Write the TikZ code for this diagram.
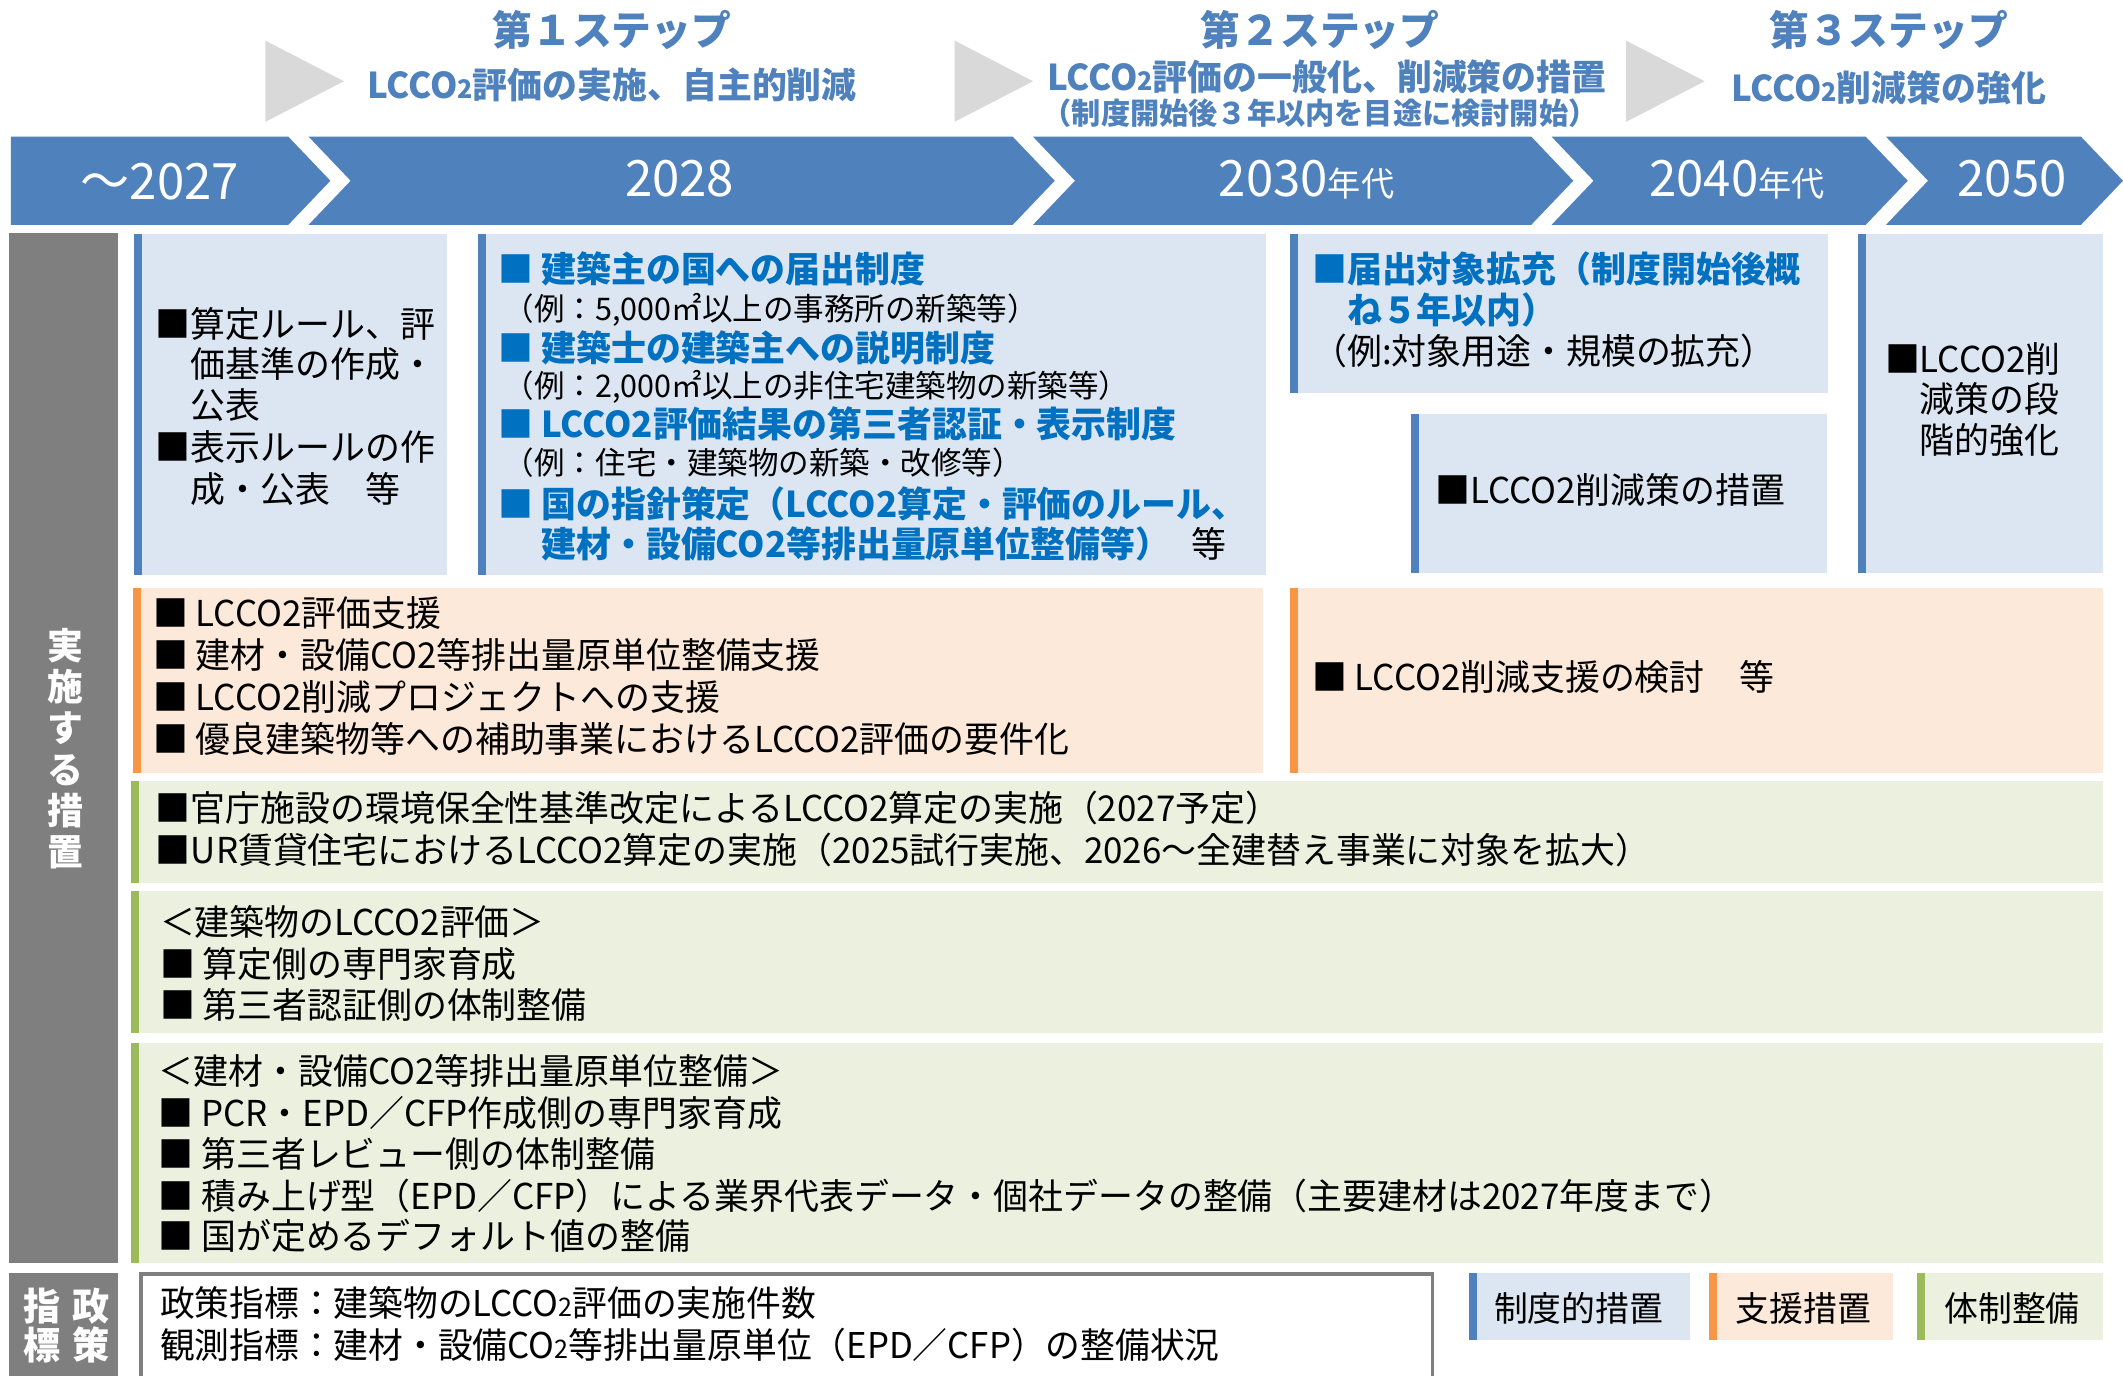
\documentclass[tikz,border=0pt]{standalone}
\usepackage{fontspec}
\setmainfont{Noto Sans CJK JP}[FakeStretch=0.98]
\newcommand\stwo{\scalebox{0.72}{2}}
\definecolor{bandblue}{HTML}{4F81BD}
\definecolor{ttlblue}{HTML}{4F81BD}
\definecolor{hdblue}{HTML}{0070C0}
\definecolor{lblue}{HTML}{DCE6F2}
\definecolor{lorange}{HTML}{FDE9D9}
\definecolor{orbar}{HTML}{F79646}
\definecolor{lgreen}{HTML}{EBF1DE}
\definecolor{grbar}{HTML}{9BBB59}
\definecolor{sidegray}{HTML}{7F7F7F}
\definecolor{trigray}{HTML}{D9D9D9}
\newcommand\catbox[6]{%
  \fill[#1] (#3,#4) rectangle (#5,#6);
  \fill[#2] (#3,#4) rectangle ({#3+6},#6);}
\tikzset{
  body/.style={anchor=base west, inner sep=0pt, yshift=-10pt, font=\fontsize{26.3}{30}\selectfont},
  small/.style={anchor=base west, inner sep=0pt, yshift=-8.7pt, font=\fontsize{23}{26}\selectfont},
  head/.style={body, text=hdblue, font=\fontsize{26.3}{30}\selectfont\bfseries},
  ttl/.style={anchor=base, inner sep=0pt, yshift=-11.5pt, text=ttlblue, font=\fontsize{30}{34}\selectfont\bfseries},
  sub/.style={anchor=base, inner sep=0pt, yshift=-10pt, text=ttlblue, font=\fontsize{26.3}{30}\selectfont\bfseries},
  subs/.style={anchor=base, inner sep=0pt, yshift=-8.3pt, text=ttlblue, font=\fontsize{22}{24}\selectfont\bfseries},
  yr/.style={anchor=base, inner sep=0pt, yshift=-14pt, text=white, font=\fontsize{37}{40}\selectfont},
  vlbl/.style={align=center, inner sep=0pt, text=white, font=\fontsize{27}{30.5}\selectfont\bfseries},
  leg/.style={anchor=base, inner sep=0pt, yshift=-9.8pt, font=\fontsize{25.5}{30}\selectfont},
  ind/.style={body, font=\fontsize{26.2}{30}\selectfont},
  tri/.style={fill=trigray},
  seg/.style={fill=bandblue},
}
\begin{document}
\begin{tikzpicture}[x=1pt,y=-1pt]
\useasboundingbox (0,0) rectangle (1568,1016);
\begin{scope}
\clip (0,0) rectangle (1568,1016);
\fill[white] (0,0) rectangle (1568,1016);
% step triangles
\fill[tri] (196,30) -- (254,60) -- (196,90) -- cycle;
\fill[tri] (705,30) -- (763,60) -- (705,90) -- cycle;
\fill[tri] (1201,30) -- (1259,60) -- (1201,90) -- cycle;
% step titles
\node[ttl] (s1) at (452,22) {第１ステップ};
\node[sub] (s1b) at (452,63) {LCCO\stwo 評価の実施、自主的削減};
\node[ttl] (s2) at (975,22) {第２ステップ};
\node[sub] (s2b) at (980,57) {LCCO\stwo 評価の一般化、削減策の措置};
\node[subs] (s2c) at (975,84) {（制度開始後３年以内を目途に検討開始）};
\node[ttl] (s3) at (1395,22) {第３ステップ};
\node[sub] (s3b) at (1395,65) {LCCO\stwo 削減策の強化};
% timeline band
\fill[seg] (8,101) -- (213,101) -- (244,133.5) -- (213,166) -- (8,166) -- cycle;
\fill[seg] (228,101) -- (748,101) -- (779,133.5) -- (748,166) -- (228,166) -- (259,133.5) -- cycle;
\fill[seg] (763,101) -- (1131,101) -- (1162,133.5) -- (1131,166) -- (763,166) -- (794,133.5) -- cycle;
\fill[seg] (1146,101) -- (1378,101) -- (1409,133.5) -- (1378,166) -- (1146,166) -- (1177,133.5) -- cycle;
\fill[seg] (1393,101) -- (1537,101) -- (1568,133.5) -- (1537,166) -- (1393,166) -- (1424,133.5) -- cycle;
\node[yr] (y1) at (118,133) {～2027};
\node[yr] (y2) at (502,131) {2028};
\node[yr] (y3) at (965,131) {2030{\fontsize{25}{26}\selectfont 年代}};
\node[yr] (y4) at (1283,131) {2040{\fontsize{25}{26}\selectfont 年代}};
\node[yr] (y5) at (1486,131) {2050};
% side labels
\fill[sidegray] (7,172) rectangle (87,933);
\node[vlbl] (lbl1) at (48,553) {実\\施\\す\\る\\措\\置};
\fill[sidegray] (7,940) rectangle (87,1030);
\node[vlbl, font=\fontsize{28}{29}\selectfont\bfseries] (lbl2a) at (67,979) {政\\策};
\node[vlbl, font=\fontsize{28}{29}\selectfont\bfseries] (lbl2b) at (31,979) {指\\標};
% row A : institutional measures
\catbox{lblue}{bandblue}{99}{173}{330}{425}
\node[body] (a1a) at (115,239) {■算定ルール、評};
\node[body] (a1b) at (115,269) {\phantom{■}価基準の作成・};
\node[body] (a1c) at (115,299) {\phantom{■}公表};
\node[body] (a1d) at (115,330) {■表示ルールの作};
\node[body] (a1e) at (115,361) {\phantom{■}成・公表　等};
\catbox{lblue}{bandblue}{353}{173}{935}{425}
\node[head] (a2a) at (368,199) {■ 建築主の国への届出制度};
\node[small] (a2b) at (372,228) {（例：5,000㎡以上の事務所の新築等）};
\node[head] (a2c) at (368,257) {■ 建築士の建築主への説明制度};
\node[small] (a2d) at (372,285) {（例：2,000㎡以上の非住宅建築物の新築等）};
\node[head] (a2e) at (368,313) {■ LCCO2評価結果の第三者認証・表示制度};
\node[small] (a2f) at (372,342) {（例：住宅・建築物の新築・改修等）};
\node[head] (a2g) at (368,372) {■ 国の指針策定（LCCO2算定・評価のルール、};
\node[head] (a2h) at (368,402) {\phantom{■ }建材・設備CO2等排出量原単位整備等）\textcolor{black}{\mdseries\hspace{0.6em}等}};
\catbox{lblue}{bandblue}{953}{173}{1350}{290}
\node[head] (a3a) at (969,199) {■届出対象拡充（制度開始後概};
\node[head] (a3b) at (969,229) {\phantom{■}ね５年以内）};
\node[body] (a3c) at (969,259) {（例:対象用途・規模の拡充）};
\catbox{lblue}{bandblue}{1042}{306}{1349}{423}
\node[body] (a4) at (1060,362) {■LCCO2削減策の措置};
\catbox{lblue}{bandblue}{1372}{173}{1553}{423}
\node[body] (a5a) at (1392,265) {■LCCO2削};
\node[body] (a5b) at (1392,295) {\phantom{■}減策の段};
\node[body] (a5c) at (1392,325) {\phantom{■}階的強化};
% row B : support measures
\catbox{lorange}{orbar}{98}{434}{933}{571}
\node[body] (b1a) at (113,453) {■ LCCO2評価支援};
\node[body] (b1b) at (113,484) {■ 建材・設備CO2等排出量原単位整備支援};
\node[body] (b1c) at (113,515) {■ LCCO2削減プロジェクトへの支援};
\node[body] (b1d) at (113,546) {■ 優良建築物等への補助事業におけるLCCO2評価の要件化};
\catbox{lorange}{orbar}{953}{434}{1553}{571}
\node[body] (b2) at (969,500) {■ LCCO2削減支援の検討　等};
% row C : system development
\catbox{lgreen}{grbar}{97}{577}{1553}{652}
\node[body] (c1a) at (115,597) {■官庁施設の環境保全性基準改定によるLCCO2算定の実施（2027予定）};
\node[body] (c1b) at (115,628) {■UR賃貸住宅におけるLCCO2算定の実施（2025試行実施、2026～全建替え事業に対象を拡大）};
\catbox{lgreen}{grbar}{97}{658}{1553}{763}
\node[body] (c2a) at (118,681) {＜建築物のLCCO2評価＞};
\node[body] (c2b) at (118,712) {■ 算定側の専門家育成};
\node[body] (c2c) at (118,742) {■ 第三者認証側の体制整備};
\catbox{lgreen}{grbar}{97}{770}{1553}{933}
\node[body] (c3a) at (117,791) {＜建材・設備CO2等排出量原単位整備＞};
\node[body] (c3b) at (117,822) {■ PCR・EPD／CFP作成側の専門家育成};
\node[body] (c3c) at (117,852) {■ 第三者レビュー側の体制整備};
\node[body] (c3d) at (117,883) {■ 積み上げ型（EPD／CFP）による業界代表データ・個社データの整備（主要建材は2027年度まで）};
\node[body] (c3e) at (117,913) {■ 国が定めるデフォルト値の整備};
% indicators
\draw[sidegray, line width=2.5pt] (104,941) rectangle (1058,1040);
\node[ind] (i1) at (118,962) {政策指標：建築物のLCCO\stwo 評価の実施件数};
\node[ind] (i2) at (118,993) {観測指標：建材・設備CO\stwo 等排出量原単位（EPD／CFP）の整備状況};
% legend
\catbox{lblue}{bandblue}{1085}{940}{1248}{990}
\node[leg] (l1) at (1166,966) {制度的措置};
\catbox{lorange}{orbar}{1262}{940}{1398}{990}
\node[leg] (l2) at (1332,966) {支援措置};
\catbox{lgreen}{grbar}{1416}{940}{1553}{990}
\node[leg] (l3) at (1486,966) {体制整備};
\end{scope}
\end{tikzpicture}
\end{document}
